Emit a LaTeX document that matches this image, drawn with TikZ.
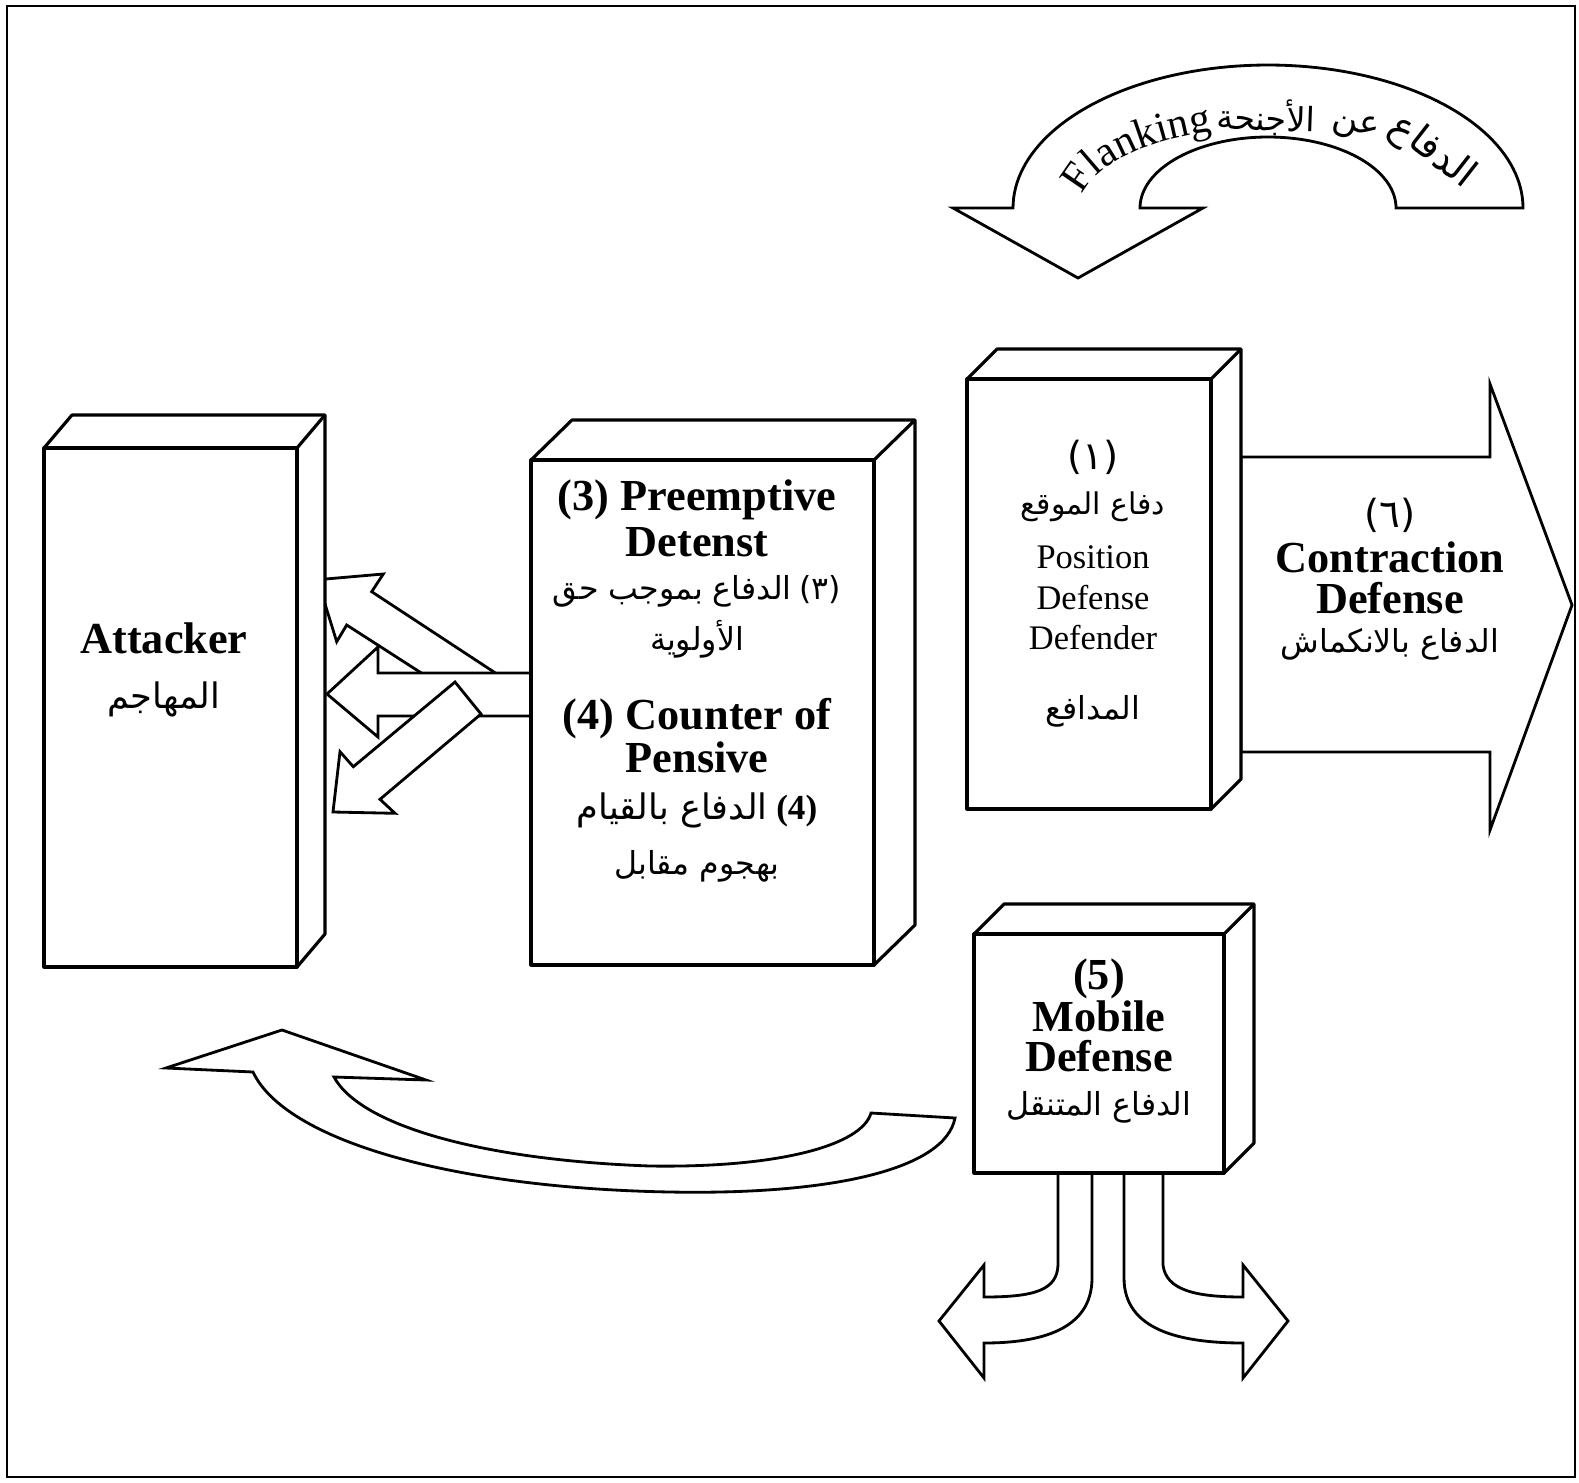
\documentclass[tikz,border=0pt]{standalone}
\usepackage{fontspec}
\setmainfont{Liberation Serif}
\newfontfamily\arabicfont[Script=Arabic]{DejaVu Sans}
\TeXXeTstate=1
\usetikzlibrary{decorations.text}

% right-to-left Arabic run
\newcommand\artext[1]{{\arabicfont\beginR #1\endR}}
\newcommand\flankfont{\fontsize{12}{14}\selectfont}

% 3-D box: name, front face (x1,y1)-(x2,y2), depth dx, dy (dy measured upwards)
\newcommand\cuboid[7]{%
  \coordinate (#1-nw) at (#2,#3);
  \coordinate (#1-se) at (#4,#5);
  \filldraw[face] (#2,#3) -- ++(#6,-#7) -- ({#4+#6},{#3-#7}) -- ({#4+#6},{#5-#7})
        -- (#4,#5) -- (#4,#3) -- cycle;
  \filldraw[face] (#2,#3) rectangle (#4,#5);
  \draw[face] (#4,#3) -- ++(#6,-#7);
}

\tikzset{
  face/.style={draw, fill=white, line width=0.9pt, line join=round},
  blockarrow/.style={draw, fill=white, line width=0.8pt, line join=miter},
  entitle/.style={font=\fontsize{12.6}{14}\selectfont\bfseries, inner sep=0pt},
  ensmall/.style={font=\fontsize{9.8}{11}\selectfont, inner sep=0pt},
  arnum/.style={font=\fontsize{11}{13}\selectfont, inner sep=0pt},
  artxt/.style={font=\fontsize{9}{11}\selectfont, inner sep=0pt},
}

\begin{document}
\begin{tikzpicture}[x=0.01cm, y=-0.01cm]
\useasboundingbox (0,0) rectangle (1579,1482);

% frame
\draw[line width=0.8pt] (7,6) rectangle (1575,1477);

% flanking arrow (half ring with head on the left)
\draw[blockarrow] (1013,208) -- (953,208) -- (1078,278) -- (1203,208) -- (1140,208)
  -- plot[domain=180:360, samples=90] ({1268+128*cos(\x)},{208+71*sin(\x)})
  -- (1523,208)
  -- plot[domain=360:180, samples=90] ({1268+255*cos(\x)},{208+143*sin(\x)})
  -- cycle;
\path[decorate, decoration={text along path, text={|\flankfont|Flanking}}]
  plot[domain=189:300, samples=100] ({1268+188*cos(\x)},{208+80*sin(\x)});
\node[font=\fontsize{9.5}{11}\selectfont, inner sep=0pt, rotate=-2]
  (flk-a1) at (1266,117) {\artext{الأجنحة}};
\node[font=\fontsize{10}{12}\selectfont, inner sep=0pt, rotate=-12]
  (flk-a2) at (1356,127) {\artext{عن}};
\node[font=\fontsize{11}{13}\selectfont, inner sep=0pt, rotate=-38]
  (flk-a3) at (1432,152) {\artext{الدفاع}};

% three arrows from the middle box towards the attacker
\draw[blockarrow] (500,676) -- (371.7,591.7) -- (383.3,574) -- (317.5,579.7)
  -- (336.7,641.7) -- (346.7,625) -- (440,685) -- cycle;
\draw[blockarrow] (540,673) -- (378,673) -- (378,647) -- (327,694) -- (378,737)
  -- (378,716) -- (540,716) -- cycle;
\draw[blockarrow] (455,682) -- (353.3,766.7) -- (340,751.7) -- (333,812)
  -- (395,813.3) -- (380,799.3) -- (481,714) -- cycle;

% curved arrow under the boxes
\draw[blockarrow] (253,1072) -- (166,1068) -- (282,1030) -- (426,1080) -- (334,1077)
  .. controls (360,1125) and (480,1160) .. (650,1166)
  .. controls (780,1168) and (862,1145) .. (871,1113)
  -- (955,1118)
  .. controls (945,1170) and (830,1195) .. (670,1192)
  .. controls (450,1188) and (285,1140) .. (253,1072) -- cycle;

% split arrows below the mobile defense box
\draw[blockarrow] (1058,1172) -- (1058,1265)
  .. controls (1057,1290) and (1035,1297) .. (984,1297)
  -- (984,1265) -- (939,1321) -- (984,1378) -- (984,1343)
  .. controls (1040,1343) and (1092,1330) .. (1092,1278) -- (1092,1172);
\draw[blockarrow] (1124,1172) -- (1124,1278)
  .. controls (1124,1330) and (1180,1343) .. (1243,1343)
  -- (1243,1378) -- (1288,1321) -- (1243,1265) -- (1243,1297)
  .. controls (1195,1297) and (1166,1290) .. (1163,1265) -- (1163,1172);

% contraction defense arrow
\draw[blockarrow] (1241,457) -- (1490,457) -- (1490,384) -- (1572,605) -- (1490,830)
  -- (1490,752) -- (1241,752) -- cycle;

% boxes
\cuboid{att}{44}{448}{297}{967}{28}{33}
\cuboid{mid}{531}{460}{874}{965}{41}{40}
\cuboid{pos}{967}{379}{1211}{809}{30}{30}
\cuboid{mob}{974}{934}{1224}{1173}{30}{30}

% attacker
\node[entitle] (att-en) at (164,638) {Attacker};
\node[artxt, font=\fontsize{10}{12}\selectfont] (att-ar) at (164,699) {\artext{المهاجم}};

% preemptive / counter offensive
\node[entitle] (mid-l1) at (697,500) {(3) Preemptive};
\node[entitle] (mid-l2) at (697,542) {Detenst};
\node[artxt]   (mid-l3) at (697,591) {\artext{الدفاع بموجب حق}\ {\arabicfont(٣)}};
\node[artxt]   (mid-l4) at (697,639) {\artext{الأولوية}};
\node[entitle] (mid-l5) at (697,719) {(4) Counter of};
\node[entitle] (mid-l6) at (697,757) {Pensive};
\node[artxt, font=\fontsize{10}{12}\selectfont]
               (mid-l7) at (697,810) {\artext{الدفاع بالقيام}\ \textbf{(4)}};
\node[artxt]   (mid-l8) at (697,866) {\artext{بهجوم مقابل}};

% position defense
\node[arnum]   (pos-l1) at (1093,457) {\arabicfont(١)};
\node[artxt, font=\fontsize{8.5}{10}\selectfont]
               (pos-l2) at (1093,507) {\artext{دفاع الموقع}};
\node[ensmall] (pos-l3) at (1093,557) {Position};
\node[ensmall] (pos-l4) at (1093,598) {Defense};
\node[ensmall] (pos-l5) at (1093,638) {Defender};
\node[artxt]   (pos-l6) at (1093,711) {\artext{المدافع}};

% contraction defense
\node[arnum]   (con-l1) at (1390,515) {\arabicfont(٦)};
\node[entitle] (con-l2) at (1390,557) {Contraction};
\node[entitle] (con-l3) at (1390,598) {Defense};
\node[artxt]   (con-l4) at (1390,644) {\artext{الدفاع بالانكماش}};

% mobile defense
\node[entitle] (mob-l1) at (1099,979) {(5)};
\node[entitle] (mob-l2) at (1099,1016) {Mobile};
\node[entitle] (mob-l3) at (1099,1056) {Defense};
\node[artxt]   (mob-l4) at (1099,1107) {\artext{الدفاع المتنقل}};
\end{tikzpicture}
\end{document}
